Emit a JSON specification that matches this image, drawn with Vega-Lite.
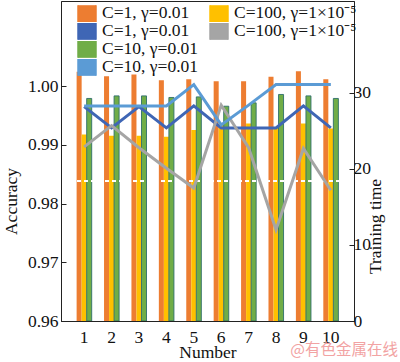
{
  "$schema": "https://vega.github.io/schema/vega-lite/v6.json",
  "width": 293,
  "height": 320,
  "autosize": {"type": "none"},
  "padding": {"left": 61, "top": 1, "right": 46, "bottom": 41},
  "background": "white",
  "title": {"text": "@有色金属在线", "orient": "bottom", "anchor": "end", "frame": "group", "offset": -18, "dx": 44, "color": "#F2A3A3", "font": "Noto Sans CJK SC", "fontSize": 15.5, "fontWeight": "normal"},
  "config": {
    "font": "Liberation Serif",
    "view": {"stroke": "#222", "strokeWidth": 1},
    "axis": {"grid": false, "domainColor": "#222", "tickColor": "#222", "labelColor": "#111", "titleColor": "#111", "labelFontSize": 17.5, "titleFontSize": 17.5, "titleFontWeight": "normal", "labelFont": "Liberation Serif", "titleFont": "Liberation Serif"}
  },
  "datasets": {
    "acc": [
      {"n": 1, "s": "a", "v": 1.00243}, {"n": 1, "s": "b", "v": 0.99178}, {"n": 1, "s": "e", "v": 0.99790},
      {"n": 2, "s": "a", "v": 1.00170}, {"n": 2, "s": "b", "v": 0.99154}, {"n": 2, "s": "e", "v": 0.99834},
      {"n": 3, "s": "a", "v": 1.00199}, {"n": 3, "s": "b", "v": 0.99154}, {"n": 3, "s": "e", "v": 0.99834},
      {"n": 4, "s": "a", "v": 1.00102}, {"n": 4, "s": "b", "v": 0.99137}, {"n": 4, "s": "e", "v": 0.99807},
      {"n": 5, "s": "a", "v": 1.00119}, {"n": 5, "s": "b", "v": 0.99251}, {"n": 5, "s": "e", "v": 0.99817},
      {"n": 6, "s": "a", "v": 1.00085}, {"n": 6, "s": "b", "v": 0.99353}, {"n": 6, "s": "e", "v": 0.99658},
      {"n": 7, "s": "a", "v": 1.00085}, {"n": 7, "s": "b", "v": 0.99365}, {"n": 7, "s": "e", "v": 0.99715},
      {"n": 8, "s": "a", "v": 1.00158}, {"n": 8, "s": "b", "v": 0.99302}, {"n": 8, "s": "e", "v": 0.99858},
      {"n": 9, "s": "a", "v": 1.00255}, {"n": 9, "s": "b", "v": 0.99365}, {"n": 9, "s": "e", "v": 0.99834},
      {"n": 10, "s": "a", "v": 1.00119}, {"n": 10, "s": "b", "v": 0.99280}, {"n": 10, "s": "e", "v": 0.99790}
    ],
    "time": [
      {"n": 1, "s": "c", "t": 28.2}, {"n": 2, "s": "c", "t": 25.4}, {"n": 3, "s": "c", "t": 28.2}, {"n": 4, "s": "c", "t": 25.4}, {"n": 5, "s": "c", "t": 28.3},
      {"n": 6, "s": "c", "t": 25.4}, {"n": 7, "s": "c", "t": 25.4}, {"n": 8, "s": "c", "t": 25.4}, {"n": 9, "s": "c", "t": 28.3}, {"n": 10, "s": "c", "t": 25.4},
      {"n": 1, "s": "d", "t": 22.9}, {"n": 2, "s": "d", "t": 25.7}, {"n": 3, "s": "d", "t": 22.8}, {"n": 4, "s": "d", "t": 20.1}, {"n": 5, "s": "d", "t": 17.5},
      {"n": 6, "s": "d", "t": 28.4}, {"n": 7, "s": "d", "t": 22.8}, {"n": 8, "s": "d", "t": 12.0}, {"n": 9, "s": "d", "t": 22.7}, {"n": 10, "s": "d", "t": 17.2},
      {"n": 1, "s": "g", "t": 28.3}, {"n": 2, "s": "g", "t": 28.3}, {"n": 3, "s": "g", "t": 28.3}, {"n": 4, "s": "g", "t": 28.3}, {"n": 5, "s": "g", "t": 31.1},
      {"n": 6, "s": "g", "t": 25.8}, {"n": 7, "s": "g", "t": 28.4}, {"n": 8, "s": "g", "t": 31.1}, {"n": 9, "s": "g", "t": 31.1}, {"n": 10, "s": "g", "t": 31.1}
    ]
  },
  "layer": [
    {
      "data": {"name": "acc"},
      "layer": [
        {
          "mark": {"type": "bar", "clip": true, "strokeWidth": 0.9},
          "encoding": {
            "x": {"field": "n", "type": "ordinal", "scale": {"paddingInner": 0.45, "paddingOuter": 0.57},
                  "axis": {"title": "Number", "labelAngle": 0, "ticks": false, "labelPadding": 7, "titlePadding": -2, "domain": true}},
            "xOffset": {"field": "s", "scale": {"domain": ["a", "b", "e"], "paddingInner": 0}},
            "y": {"field": "v", "type": "quantitative", "scale": {"domain": [0.96, 1.0145], "zero": false, "nice": false},
                  "axis": {"title": "Accuracy", "values": [0.96, 0.97, 0.98, 0.99, 1.0], "format": ".2f", "tickSize": -5, "labelPadding": 8, "titlePadding": 7, "titleY": 200}},
            "y2": {"datum": 0.96},
            "color": {"field": "s", "type": "nominal",
                      "scale": {"domain": ["a", "c", "e", "g", "b", "d", "f"], "range": ["#ED7D31", "#3F66B5", "#70AD47", "#5B9BD5", "#FFC000", "#A5A5A5", "transparent"]},
                      "legend": {
                        "orient": "none", "legendX": 16, "legendY": 4, "columns": 2, "title": null,
                        "symbolSize": 324, "labelFontSize": 17.5, "labelFont": "Liberation Serif", "labelColor": "#111",
                        "columnPadding": 10, "rowPadding": 0, "clipHeight": 16.5, "labelOffset": 5, "labelLimit": 300,
                        "labelExpr": "(datum.value=='a'||datum.value=='c') ? 'C=1, γ=0.01' : (datum.value=='b'||datum.value=='d') ? 'C=100, γ=1×10⁻⁵' : datum.value=='f' ? '' : 'C=10, γ=0.01'",
                        "encode": {"symbols": {"update": {
                          "shape": {"signal": "indexof(['c','d','g'], datum.value) >= 0 ? 'stroke' : 'M-1,-0.3L1,-0.3L1,0.3L-1,0.3Z'"},
                          "fill": {"signal": "datum.value=='a' ? '#ED7D31' : datum.value=='b' ? '#FFC000' : datum.value=='e' ? '#70AD47' : 'transparent'"},
                          "stroke": {"signal": "datum.value=='c' ? '#3F66B5' : datum.value=='d' ? '#A5A5A5' : datum.value=='g' ? '#5B9BD5' : datum.value=='e' ? '#2E6E6A' : 'transparent'"},
                          "strokeWidth": {"signal": "indexof(['c','d','g'], datum.value) >= 0 ? 3 : 1"},
                          "opacity": {"value": 1}
                        }}}
                      }},
            "stroke": {"condition": {"test": "datum.s == 'e'", "value": "#2E6E6A"}, "value": "transparent"}
          }
        },
        {
          "mark": {"type": "rule", "color": "white", "strokeDash": [4, 3], "strokeWidth": 1},
          "encoding": {"y": {"datum": 0.9838}}
        }
      ]
    },
    {
      "data": {"name": "time"},
      "mark": {"type": "line", "strokeWidth": 3, "clip": true},
      "encoding": {
        "x": {"field": "n", "type": "ordinal", "scale": {"paddingInner": 0.45, "paddingOuter": 0.57}},
        "y": {"field": "t", "type": "quantitative", "scale": {"domain": [0, 42.1], "nice": false, "zero": true},
              "axis": {"orient": "right", "title": "Training time", "values": [0, 10, 20, 30], "tickSize": -5, "labelPadding": 4, "titlePadding": 14, "titleAngle": 270, "titleY": 225}},
        "color": {"field": "s", "type": "nominal",
                  "scale": {"domain": ["a", "c", "e", "g", "b", "d", "f"], "range": ["#ED7D31", "#3F66B5", "#70AD47", "#5B9BD5", "#FFC000", "#A5A5A5", "transparent"]}}
      }
    }
  ],
  "resolve": {"scale": {"y": "independent"}}
}
